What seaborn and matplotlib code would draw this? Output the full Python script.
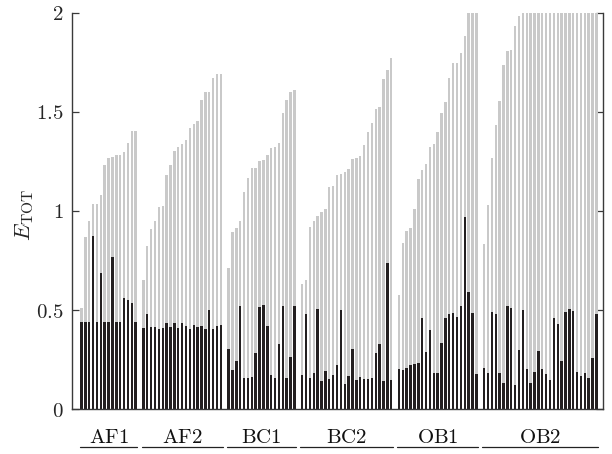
import numpy as np
import pandas as pd
import matplotlib
matplotlib.use("Agg")
import matplotlib.pyplot as plt
import matplotlib.transforms as mtransforms
import seaborn as sns

# Group names along the x axis
groups = ["AF1", "AF2", "BC1", "BC2", "OB1", "OB2"]

# Total error per case (light bars); values above 2 run off the top of the axis
af1_total = [0.512, 0.868, 0.949, 1.033, 1.036, 1.083, 1.234, 1.268, 1.271, 1.281,
             1.285, 1.296, 1.342, 1.402, 1.402]
af2_total = [0.650, 0.823, 0.910, 0.947, 1.018, 1.024, 1.184, 1.231, 1.305, 1.322,
             1.338, 1.360, 1.419, 1.441, 1.456, 1.560, 1.600, 1.600, 1.671, 1.691, 1.694]
bc1_total = [0.714, 0.893, 0.914, 0.947, 1.098, 1.169, 1.216, 1.218, 1.254, 1.258,
             1.281, 1.318, 1.322, 1.343, 1.493, 1.560, 1.600, 1.611]
bc2_total = [0.633, 0.653, 0.918, 0.950, 0.974, 0.994, 1.009, 1.123, 1.128, 1.184,
             1.187, 1.197, 1.212, 1.263, 1.268, 1.280, 1.333, 1.397, 1.446, 1.514,
             1.523, 1.669, 1.714, 1.775]
ob1_total = [0.574, 0.838, 0.900, 0.912, 1.011, 1.160, 1.207, 1.238, 1.325, 1.338,
             1.397, 1.496, 1.548, 1.674, 1.745, 1.745, 1.797, 1.886, 2.05, 2.10, 2.15]
ob2_total = [0.835, 1.028, 1.268, 1.434, 1.553, 1.736, 1.808, 1.814, 1.934, 1.985,
             2.05, 2.10, 2.15, 2.20, 2.25, 2.30, 2.35, 2.40, 2.45, 2.50,
             2.55, 2.60, 2.65, 2.70, 2.75, 2.80, 2.85, 2.90, 2.95, 3.00]

# Error of the optimised variant (dark bars)
af1_opt = [0.437, 0.437, 0.437, 0.872, 0.437, 0.689, 0.437, 0.437, 0.767, 0.437,
           0.437, 0.561, 0.549, 0.536, 0.437]
af2_opt = [0.410, 0.479, 0.415, 0.415, 0.406, 0.408, 0.432, 0.415, 0.432, 0.411,
           0.432, 0.418, 0.403, 0.426, 0.415, 0.418, 0.406, 0.499, 0.406, 0.421, 0.426]
bc1_opt = [0.301, 0.196, 0.242, 0.521, 0.158, 0.158, 0.161, 0.284, 0.516, 0.526,
           0.420, 0.171, 0.158, 0.327, 0.521, 0.158, 0.264, 0.519]
bc2_opt = [0.170, 0.480, 0.158, 0.180, 0.504, 0.141, 0.191, 0.150, 0.173, 0.222,
           0.499, 0.126, 0.168, 0.301, 0.148, 0.160, 0.153, 0.153, 0.156, 0.282,
           0.326, 0.141, 0.737, 0.145]
ob1_opt = [0.200, 0.196, 0.207, 0.222, 0.228, 0.230, 0.462, 0.287, 0.401, 0.181,
           0.183, 0.332, 0.462, 0.479, 0.484, 0.467, 0.519, 0.972, 0.593, 0.484, 0.178]
ob2_opt = [0.205, 0.180, 0.490, 0.482, 0.183, 0.131, 0.521, 0.509, 0.123, 0.296,
           0.499, 0.200, 0.131, 0.185, 0.294, 0.200, 0.176, 0.146, 0.460, 0.428,
           0.240, 0.489, 0.504, 0.494, 0.185, 0.166, 0.180, 0.155, 0.258, 0.479]

y_ticks = [0, 0.5, 1, 1.5, 2]
y_tick_labels = ["0", "0.5", "1", "1.5", "2"]

totals = [af1_total, af2_total, bc1_total, bc2_total, ob1_total, ob2_total]
opts = [af1_opt, af2_opt, bc1_opt, bc2_opt, ob1_opt, ob2_opt]

# Lay the cases out on one axis, leaving an empty slot between groups
rows = []
spans = []
pos = 0
for name, tot, opt in zip(groups, totals, opts):
    start = pos
    for t, o in zip(tot, opt):
        rows.append({"group": name, "pos": pos, "total": t, "opt": o})
        pos += 1
    spans.append((name, start, pos - 1))
    pos += 1
df = pd.DataFrame(rows)

sns.set_theme(style="ticks")
plt.rcParams["mathtext.fontset"] = "cm"
plt.rcParams["font.family"] = ["DejaVu Serif"]

fig = plt.figure(figsize=(6.12, 4.54), dpi=100)
ax = fig.add_axes([0.1176, 0.0991, 0.8677, 0.8723])

light = "#c9c9c9"
dark = "#231f20"
sns.barplot(data=df, x="pos", y="total", native_scale=True, color=light,
            saturation=1, width=0.62, linewidth=0, ax=ax)
sns.barplot(data=df, x="pos", y="opt", native_scale=True, color=dark,
            saturation=1, width=0.62, linewidth=0, ax=ax)

ax.set_xlim(-2.45, 134.7)
ax.set_ylim(0, 2)
ax.set_xticks([])
ax.set_xlabel("")
ax.set_yticks(y_ticks)
ax.set_yticklabels([f"${t}$" for t in y_tick_labels], fontsize=15)
ax.set_ylabel(r"$E_{\mathrm{TOT}}$", fontsize=16)
ax.yaxis.set_label_coords(-0.068, 0.49)

ax.tick_params(axis="y", direction="in", length=5, width=0.9, color="#3a3a3a",
               left=True, right=True, pad=6)
for side in ["left", "right", "bottom"]:
    ax.spines[side].set_color("#3a3a3a")
    ax.spines[side].set_linewidth(1.0)
ax.spines["top"].set_visible(False)

# Group labels with an underline spanning each group
trans = mtransforms.blended_transform_factory(ax.transData, ax.transAxes)
for name, a, b in spans:
    ax.text((a + b) / 2, -0.071, rf"$\mathrm{{{name}}}$", transform=trans,
            ha="center", va="center", fontsize=15, color="#111111")
    ax.plot([a - 0.45, b + 0.45], [-0.097, -0.097], transform=trans,
            color="#222222", lw=0.9, clip_on=False)

fig.savefig("out.png", dpi=100)
